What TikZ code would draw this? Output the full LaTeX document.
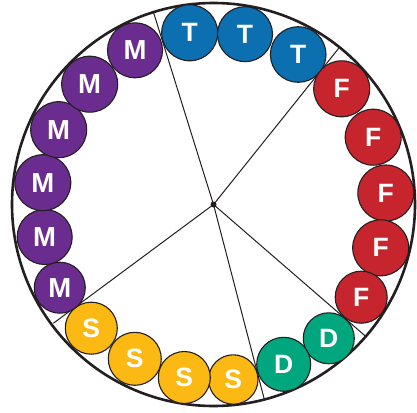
\documentclass[tikz,border=0pt]{standalone}
\usepackage{fontspec}
\setmainfont{Liberation Sans}
\definecolor{tblue}{HTML}{0B6FB0}
\definecolor{fred}{HTML}{C7252E}
\definecolor{mpurple}{HTML}{6B2C8F}
\definecolor{syellow}{HTML}{FDB913}
\definecolor{dgreen}{HTML}{00A67E}
\definecolor{ink}{HTML}{231F20}
\tikzset{
  ball/.style={circle, draw=ink, line width=1.1pt, inner sep=0pt, text=white,
    font=\bfseries\fontsize{26.5}{26.5}\selectfont},
  tball/.style={ball, fill=tblue},
  fball/.style={ball, fill=fred},
  mball/.style={ball, fill=mpurple, font=\bfseries\fontsize{27.5}{27.5}\selectfont},
  sball/.style={ball, fill=syellow},
  dball/.style={ball, fill=dgreen},
  spoke/.style={draw=ink, line width=1pt},
}
\begin{document}
\begin{tikzpicture}[x=1pt,y=-1pt]
\useasboundingbox (0,0) rectangle (417,412);
\node[circle, draw=ink, line width=2.6pt, minimum size=403pt, inner sep=0pt] (rim) at (213.5,204.5) {};
\node[circle, fill=ink, minimum size=6pt, inner sep=0pt] (c) at (213.5,204.5) {};
\coordinate (e1) at (153.3,11.7);
\coordinate (e2) at (338.7,48.3);
\coordinate (e3) at (365.3,336);
\coordinate (e4) at (264.3,399.3);
\coordinate (e5) at (53.3,323.3);
\foreach \e in {e1,e2,e3,e4,e5} \draw[spoke] (c.center) -- (\e);
% T
\node[tball, minimum size=56pt] (t1) at (189.7,32.8) {T};
\node[tball, minimum size=55pt] (t2) at (245,34.2) {T};
\node[tball, minimum size=55.6pt] (t3) at (298.2,54.5) {T};
% F
\node[fball, minimum size=56pt] (f1) at (341.7,88.8) {F};
\node[fball, minimum size=56pt] (f2) at (373.2,137.2) {F};
\node[fball, minimum size=56pt] (f3) at (385.8,193) {F};
\node[fball, minimum size=56pt] (f4) at (380.7,247.8) {F};
\node[fball, minimum size=52pt] (f5) at (361.2,297.2) {F};
% D
\node[dball, minimum size=51pt] (d2) at (328.8,338.3) {D};
\node[dball, minimum size=54pt] (d1) at (283.7,364.3) {D};
% S
\node[sball, minimum size=49.4pt] (s4) at (233.3,379.5) {S};
\node[sball, minimum size=52pt] (s3) at (184.3,377.5) {S};
\node[sball, minimum size=53pt] (s2) at (134.8,358.8) {S};
\node[sball, minimum size=52pt] (s1) at (91.3,328.2) {S};
% M
\node[mball, minimum size=51pt] (m6) at (59.8,287.7) {M};
\node[mball, minimum size=55pt] (m5) at (44.7,237) {M};
\node[mball, minimum size=56pt] (m4) at (42.8,182.7) {M};
\node[mball, minimum size=56pt] (m3) at (58.7,129.7) {M};
\node[mball, minimum size=56pt] (m2) at (89.7,84.2) {M};
\node[mball, minimum size=55pt] (m1) at (135,50.3) {M};
\end{tikzpicture}
\end{document}
